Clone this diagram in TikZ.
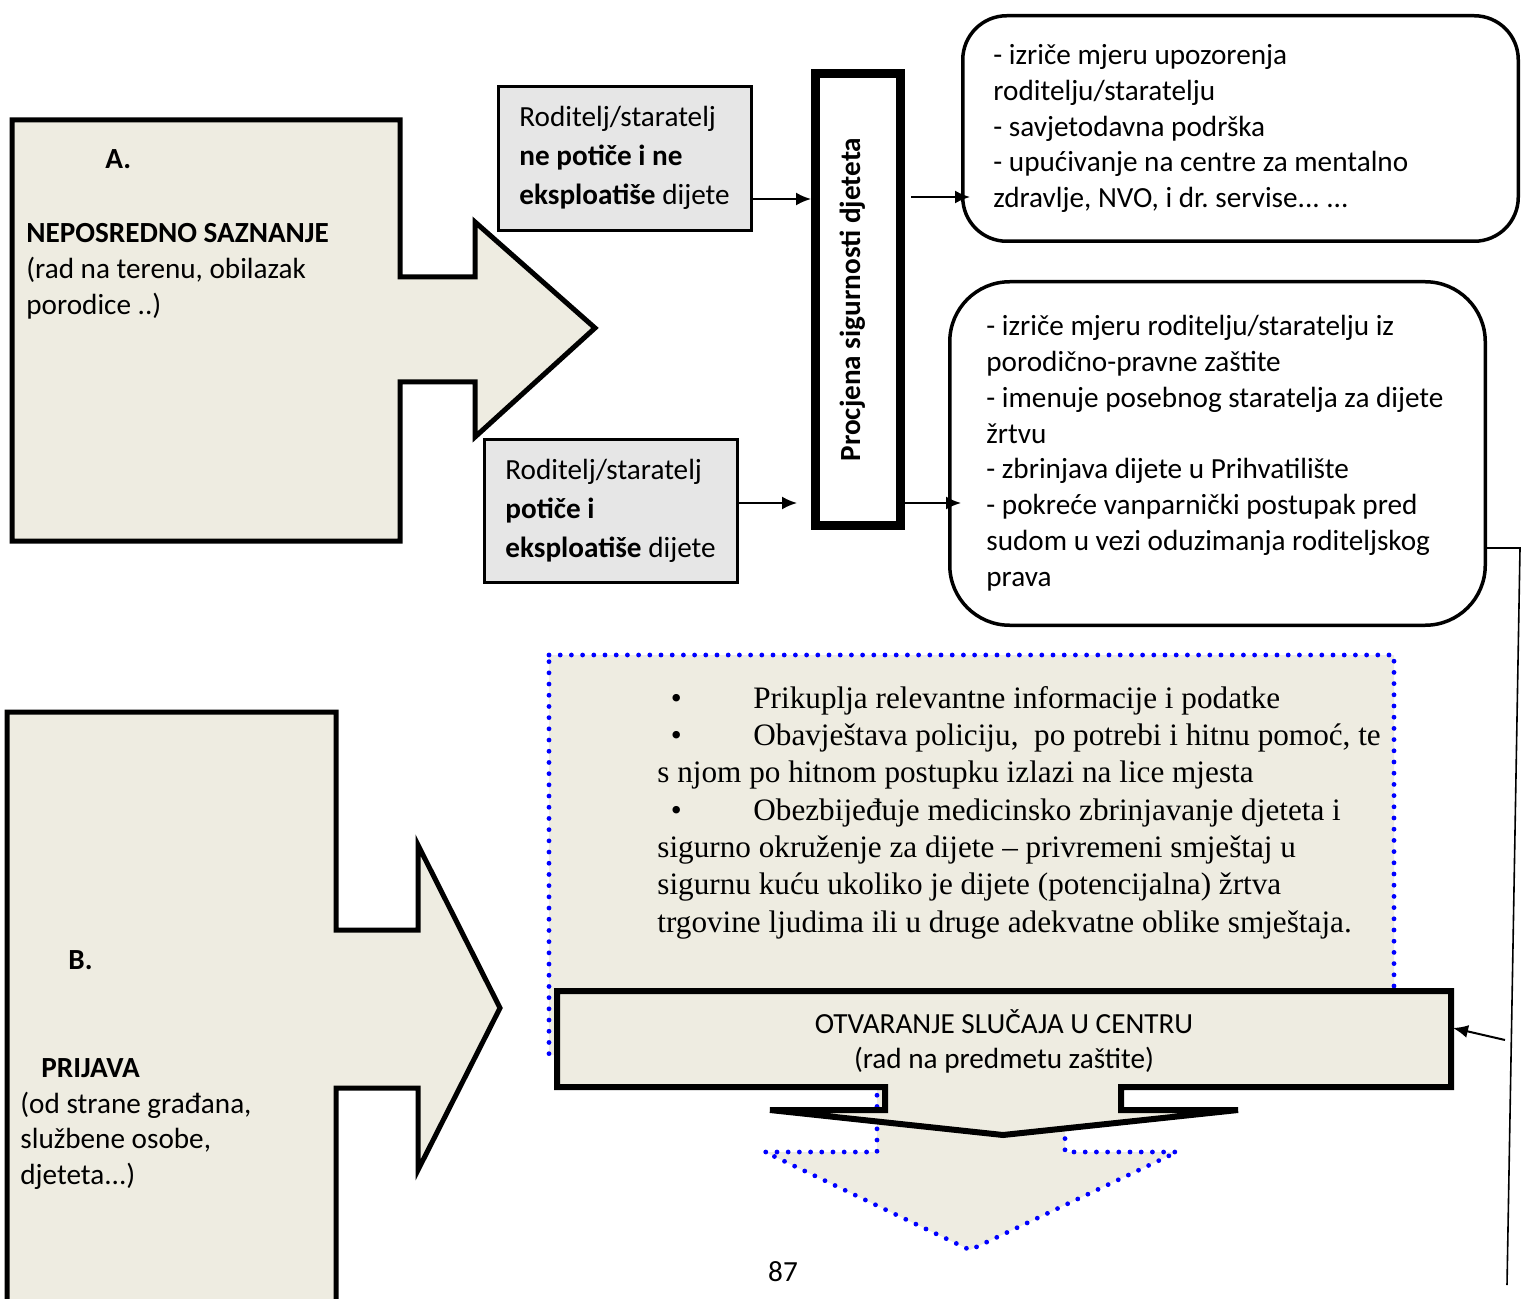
\documentclass[tikz,border=0pt]{standalone}
\usepackage{fontspec}
\setmainfont{Carlito}
\newfontfamily\cambriafont{Liberation Serif}
\usetikzlibrary{arrows.meta}
\definecolor{beige}{HTML}{EEECE1}
\definecolor{lgray}{HTML}{E6E6E6}
\definecolor{dotblue}{HTML}{0000FF}
\frenchspacing
\begin{document}
\begin{tikzpicture}[x=0.5pt,y=-0.5pt,
  bigarrow/.style={draw=black, fill=beige, line width=2.5pt, line join=miter},
  otvshape/.style={draw=black, fill=beige, line width=3pt, line join=miter},
  callout/.style={draw=dotblue, fill=beige, line width=2.4pt, line cap=round, dash pattern=on 0pt off 5.6pt},
  graybox/.style={draw=black, fill=lgray, line width=1.5pt, inner sep=0pt, minimum width=126.5pt},
  procbox/.style={draw=black, fill=white, line width=4.5pt, inner sep=0pt, minimum width=42.5pt, minimum height=226pt},
  rbox/.style={draw=black, fill=white, line width=1.75pt, inner sep=0pt},
  txt/.style={inner sep=0pt, align=left, anchor=north west, font=\fontsize{14.6pt}{17.9pt}\selectfont},
  graytxt/.style={txt, font=\fontsize{14.6pt}{19.5pt}\selectfont},
  conn/.style={draw=black, line width=1pt, -{Latex[length=7.5pt,width=6.5pt]}},
  plainline/.style={draw=black, line width=0.8pt}
]
\useasboundingbox (0,0) rectangle (1525,1299);
\clip (0,0) rectangle (1525,1299);

% ---------- A arrow ----------
\draw[bigarrow] (12,120) -- (400,120) -- (400,277) -- (475,277) -- (475,222) -- (595,328)
  -- (475,437) -- (475,382) -- (400,382) -- (400,541) -- (12,541) -- cycle;
\node[inner sep=0pt, anchor=base west, font=\fontsize{14.6pt}{17.9pt}\selectfont\bfseries] (alabel) at (105,169) {A.};
\node[txt] (abody) at (26,223) {\textbf{NEPOSREDNO SAZNANJE}\\(rad na terenu, obilazak\\porodice ..)};

% ---------- B arrow ----------
\draw[bigarrow] (7,712) -- (336,712) -- (336,930) -- (418,930) -- (418,845) -- (500,1008)
  -- (418,1170) -- (418,1088) -- (336,1088) -- (336,1330) -- (7,1330) -- cycle;
\node[inner sep=0pt, anchor=base west, font=\fontsize{14.6pt}{17.9pt}\selectfont\bfseries] (blabel) at (68,969) {B.};
\node[txt] (bbody) at (20,1058) {\hspace*{10.5pt}\textbf{PRIJAVA}\\(od strane građana,\\službene osobe,\\djeteta...)};

% ---------- gray boxes ----------
\node[graybox, minimum height=72pt] (g1) at (625,158.5) {};
\node[graytxt] (g1t) at (519,106) {Roditelj/staratelj\\\textbf{ne potiče i ne}\\\textbf{eksploatiše} dijete};
\node[graybox, minimum height=71.5pt] (g2) at (611,511) {};
\node[graytxt] (g2t) at (505,459) {Roditelj/staratelj\\\textbf{potiče i}\\\textbf{eksploatiše} dijete};

% ---------- Procjena ----------
\node[procbox] (proc) at (858,299.5) {};
\node[rotate=90, inner sep=0pt, font=\fontsize{14.6pt}{17.9pt}\selectfont\bfseries] (proct) at (853,299.5) {Procjena sigurnosti djeteta};

% ---------- rounded boxes ----------
\node[rbox, rounded corners=22pt, minimum width=277.75pt, minimum height=112.75pt] (rb1) at (1240.5,128.5) {};
\node[txt] (rb1t) at (993,44) {- izriče mjeru upozorenja\\roditelju/staratelju\\- savjetodavna podrška\\- upućivanje na centre za mentalno\\zdravlje, NVO, i dr. servise... ...};
\node[rbox, rounded corners=30pt, minimum width=267.75pt, minimum height=171.75pt] (rb2) at (1217.5,453.5) {};
\node[txt] (rb2t) at (986,315) {- izriče mjeru roditelju/staratelju iz\\porodično-pravne zaštite\\- imenuje posebnog staratelja za dijete\\žrtvu\\- zbrinjava dijete u Prihvatilište\\- pokreće vanparnički postupak pred\\sudom u vezi oduzimanja roditeljskog\\prava};

% ---------- connectors (top) ----------
\coordinate (ya) at (0,199);
\coordinate (yb) at (0,503);
\coordinate (yc) at (0,197);
\draw[conn] (g1.east |- ya) -- (proc.west |- ya);
\draw[conn, shorten >=7pt] (g2.east |- yb) -- (proc.west |- yb);
\draw[conn, shorten <=3pt, shorten >=-4.5pt] (proc.east |- yc) -- (rb1.west |- yc);
\draw[conn, shorten >=-6.5pt] (proc.east |- yb) -- (rb2.west |- yb);

% ---------- callout (dotted) ----------
\draw[callout] (549,655) -- (1394,655) -- (1394,1055) -- (1065,1055) -- (1065,1152) -- (1177,1152)
  -- (970,1250) -- (765,1152) -- (877,1152) -- (877,1055) -- (549,1055) -- cycle;
\node[inner sep=0pt, align=left, anchor=north west, font=\cambriafont\fontsize{15.6pt}{18.65pt}\selectfont] (callt) at (657,686)
 {\makebox[48pt][l]{\hspace*{6.75pt}\textbullet}Prikuplja relevantne informacije i podatke\\
  \makebox[48pt][l]{\hspace*{6.75pt}\textbullet}Obavještava policiju,\ \ po potrebi i hitnu pomoć, te\\
  s njom po hitnom postupku izlazi na lice mjesta\\
  \makebox[48pt][l]{\hspace*{6.75pt}\textbullet}Obezbijeđuje medicinsko zbrinjavanje djeteta i\\
  sigurno okruženje za dijete – privremeni smještaj u\\
  sigurnu kuću ukoliko je dijete (potencijalna) žrtva\\
  trgovine ljudima ili u druge adekvatne oblike smještaja.};

% ---------- OTVARANJE ----------
\draw[otvshape] (557,991) -- (1451,991) -- (1451,1087) -- (1121,1087) -- (1121,1110) -- (1238,1110)
  -- (1003,1135) -- (770,1110) -- (885,1110) -- (885,1087) -- (557,1087) -- cycle;
\node[inner sep=0pt, align=center, font=\fontsize{14.6pt}{17.5pt}\selectfont] (otv) at (1004,1041)
 {OTVARANJE SLUČAJA U CENTRU\\(rad na predmetu zaštite)};

% ---------- right feedback line ----------
\coordinate (yr) at (0,548);
\coordinate (r1) at (1520,548);
\coordinate (r2) at (1507,1285);
\draw[plainline] (rb2.east |- yr) -- (r1) -- (r2);
\coordinate (s1) at (1505,1040);
\coordinate (s2) at (1453,1028);
\draw[conn] (s1) -- (s2);

% ---------- page number ----------
\node[inner sep=0pt, font=\fontsize{14.6pt}{17.9pt}\selectfont] (pnum) at (783,1272) {87};
\end{tikzpicture}
\end{document}
